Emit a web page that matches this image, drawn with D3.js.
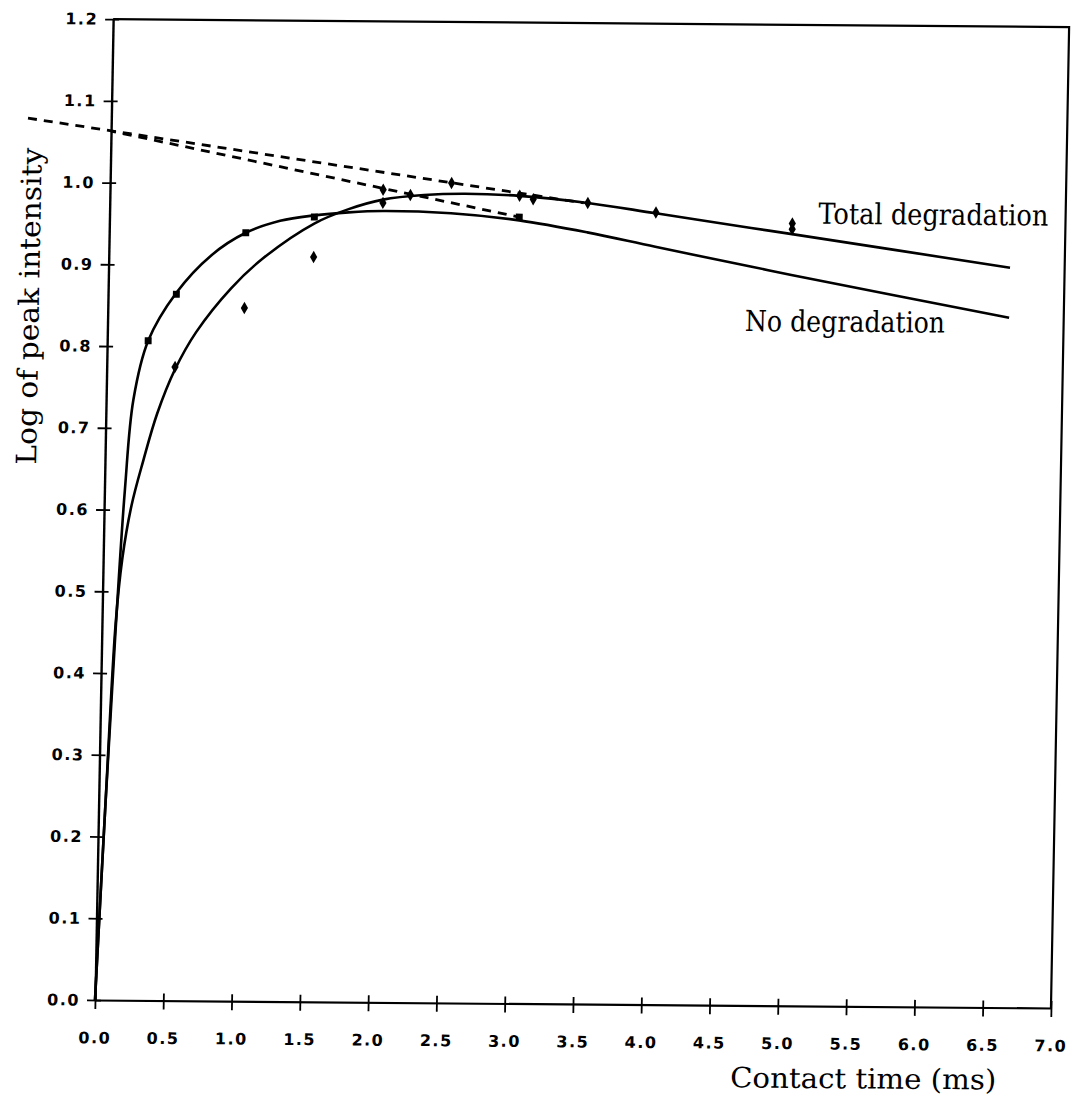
<!DOCTYPE html>
<html><head><meta charset="utf-8">
<script src="https://cdn.jsdelivr.net/npm/d3@7"></script>
<style>body{margin:0;background:#fff}</style>
</head><body>
<svg id="c" width="1078" height="1109"></svg>
<script>
// ---- data ----
const xTicks = [0,0.5,1.0,1.5,2.0,2.5,3.0,3.5,4.0,4.5,5.0,5.5,6.0,6.5,7.0];
const yTicks = [0,0.1,0.2,0.3,0.4,0.5,0.6,0.7,0.8,0.9,1.0,1.1,1.2];

// fitted curve "No degradation"
const noDegCurveX = [0,0.05,0.10,0.15,0.20,0.30,0.50,0.75,1.00,1.25,1.50,1.75,2.00,2.50,3.00,3.50,4.00,4.70,5.00,6.60];
const noDegCurveY = [0,0.24,0.45,0.625,0.735,0.807,0.866,0.912,0.940,0.955,0.962,0.966,0.968,0.966,0.958,0.944,0.927,0.904,0.894,0.844];
// fitted curve "Total degradation"
const totDegCurveX = [0,0.05,0.10,0.14,0.20,0.28,0.376,0.50,0.65,0.90,1.13,1.50,1.75,2.00,2.30,2.60,3.00,3.50,4.00,4.70,5.00,6.60];
const totDegCurveY = [0,0.24,0.46,0.54,0.605,0.66,0.718,0.772,0.818,0.872,0.909,0.952,0.970,0.982,0.988,0.990,0.988,0.980,0.968,0.951,0.944,0.905];

// measured points
const noDegPtsX = [0.3,0.5,1.0,1.5,3.0];
const noDegPtsY = [0.807,0.864,0.940,0.960,0.962];
const totDegPtsX = [0.5,1.0,1.5,2.0,2.2,3.0,3.1,3.5,4.0,5.0,5.0];
const totDegPtsY = [0.775,0.848,0.911,0.978,0.988,0.988,0.984,0.980,0.969,0.957,0.950];
const dashPtsX = [2.0,2.5];
const dashPtsY = [0.994,1.003];

// dashed extrapolation lines
const upperDashX = [-0.61,3.47];
const upperDashY = [1.078,0.980];
const lowerDashX = [0,3.0];
const lowerDashY = [1.063,0.962];

// ---- drawing ----
const x = d3.scaleLinear().domain([0,7]).range([95,1051]);
const y = d3.scaleLinear().domain([0,1.2]).range([1000,19]);
const svg = d3.select('#c');
svg.append('rect').attr('width',1078).attr('height',1109).attr('fill','#fff');
const g = svg.append('g')
  .attr('transform',`rotate(0.48,${x(0)},${y(0)}) translate(0,${y(0)}) skewX(-0.58) translate(0,${-y(0)})`);

const tickFont = s => s.attr('font-family','DejaVu Sans, sans-serif').attr('font-weight','bold')
  .attr('font-size',16).attr('letter-spacing',1.5).attr('fill','#000');

// frame
g.append('path')
  .attr('d',`M${x(0)},${y(1.2)}H${x(7)}V${y(0)}`)
  .attr('fill','none').attr('stroke','#000').attr('stroke-width',2.2);

// y axis
const ya = g.append('g').attr('transform',`translate(${x(0)},0)`)
  .call(d3.axisLeft(y).tickValues(yTicks).tickSizeInner(8).tickSizeOuter(0).tickPadding(7).tickFormat(d3.format('.1f')));
ya.select('.domain').attr('stroke','#000').attr('stroke-width',2.4);
ya.selectAll('.tick line').attr('x1',6).attr('stroke','#000').attr('stroke-width',1.8);
ya.selectAll('.tick text').call(tickFont);

// x axis
const xa = g.append('g').attr('transform',`translate(0,${y(0)})`)
  .call(d3.axisBottom(x).tickValues(xTicks).tickSizeInner(9).tickSizeOuter(0).tickPadding(23).tickFormat(d3.format('.1f')));
xa.select('.domain').attr('stroke','#000').attr('stroke-width',2.2);
xa.selectAll('.tick line').attr('y1',-7).attr('stroke','#000').attr('stroke-width',1.8);
xa.selectAll('.tick text').call(tickFont);

// curves
const zip = (a,b) => a.map((v,i)=>[v,b[i]]);
const line = d3.line().x(d=>x(d[0])).y(d=>y(d[1])).curve(d3.curveCatmullRom.alpha(0.5));
g.append('path').attr('d',line(zip(noDegCurveX,noDegCurveY)))
  .attr('fill','none').attr('stroke','#000').attr('stroke-width',2.6);
g.append('path').attr('d',line(zip(totDegCurveX,totDegCurveY)))
  .attr('fill','none').attr('stroke','#000').attr('stroke-width',2.6);

const straight = d3.line().x(d=>x(d[0])).y(d=>y(d[1]));
g.append('path').attr('d',straight(zip(upperDashX,upperDashY)))
  .attr('fill','none').attr('stroke','#000').attr('stroke-width',2.8).attr('stroke-dasharray','9,7');
g.append('path').attr('d',straight(zip(lowerDashX,lowerDashY)))
  .attr('fill','none').attr('stroke','#000').attr('stroke-width',2.8).attr('stroke-dasharray','9,7').attr('stroke-dashoffset',4);

// markers
const sym = (type,size) => d3.symbol().type(type).size(size);
g.selectAll('.sq').data(zip(noDegPtsX,noDegPtsY)).join('path')
  .attr('transform',d=>`translate(${x(d[0])},${y(d[1])})`).attr('d',sym(d3.symbolSquare,48)()).attr('fill','#000');
g.selectAll('.di').data(zip(totDegPtsX,totDegPtsY)).join('path')
  .attr('transform',d=>`translate(${x(d[0])},${y(d[1])})`).attr('d',sym(d3.symbolDiamond,45)()).attr('fill','#000');
g.selectAll('.dp').data(zip(dashPtsX,dashPtsY)).join('path')
  .attr('transform',d=>`translate(${x(d[0])},${y(d[1])})`).attr('d',sym(d3.symbolDiamond,45)()).attr('fill','#000');

// labels
const serif = s => s.attr('font-family','DejaVu Serif, serif').attr('fill','#000');
g.append('text').attr('x',x(5.19)).attr('y',y(0.957)).attr('font-size',29)
  .attr('textLength',230).attr('lengthAdjust','spacingAndGlyphs').call(serif).text('Total degradation');
g.append('text').attr('x',x(4.667)).attr('y',y(0.825)).attr('font-size',29)
  .attr('textLength',200).attr('lengthAdjust','spacingAndGlyphs').call(serif).text('No degradation');

// axis titles
g.append('text').attr('x',x(5.635)).attr('y',y(0)+82).attr('text-anchor','middle').attr('font-size',28)
  .attr('textLength',266).attr('lengthAdjust','spacingAndGlyphs').call(serif).text('Contact time (ms)');
g.append('text').attr('transform',`translate(${x(0)-69},${y(0.848)}) rotate(-90)`).attr('text-anchor','middle')
  .attr('font-size',28).attr('textLength',317).attr('lengthAdjust','spacingAndGlyphs').call(serif).text('Log of peak intensity');
</script>
</body></html>
